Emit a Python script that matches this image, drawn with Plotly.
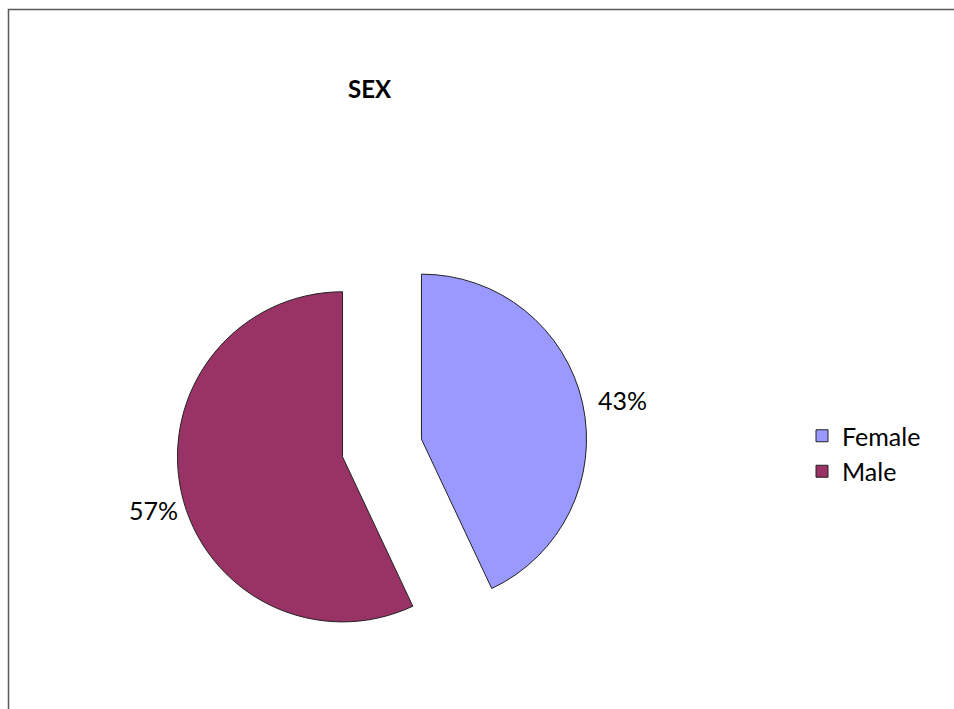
import plotly.graph_objects as go

# Sex distribution
categories = ["Female", "Male"]
shares = [43, 57]
colors = ["#9999FF", "#993366"]

W, H = 954, 709
font_family = "Lato, 'Open Sans', sans-serif"

fig = go.Figure(
    go.Pie(
        labels=categories,
        values=shares,
        sort=False,
        direction="clockwise",
        rotation=0,
        pull=[0.245, 0.245],
        marker=dict(colors=colors, line=dict(color="#222222", width=1)),
        textinfo="none",
        hoverinfo="label+percent",
        domain=dict(x=[176.5 / W, 587.5 / W], y=[55 / H, 467 / H]),
    )
)

# Percentage labels placed beside each slice
label_pos = [(622 / W, 1 - 400 / H), (153 / W, 1 - 510 / H)]
annotations = [
    dict(
        text=f"{v}%",
        x=px,
        y=py,
        xref="paper",
        yref="paper",
        xanchor="center",
        yanchor="middle",
        showarrow=False,
        font=dict(family=font_family, size=25, color="#000000"),
    )
    for v, (px, py) in zip(shares, label_pos)
]
annotations.append(
    dict(
        text="<b>SEX</b>",
        x=370 / W,
        y=1 - 88 / H,
        xref="paper",
        yref="paper",
        xanchor="center",
        yanchor="middle",
        showarrow=False,
        font=dict(family=font_family, size=24, color="#000000"),
    )
)

fig.update_layout(
    width=W,
    height=H,
    margin=dict(l=0, r=0, t=0, b=0),
    paper_bgcolor="white",
    plot_bgcolor="white",
    showlegend=True,
    legend=dict(
        x=802 / W,
        y=1 - 413 / H,
        xanchor="left",
        yanchor="top",
        font=dict(family=font_family, size=25, color="#000000"),
        tracegroupgap=0,
        itemwidth=30,
    ),
    annotations=annotations,
    shapes=[
        dict(
            type="rect",
            xref="paper",
            yref="paper",
            x0=8.5 / W,
            x1=1.05,
            y0=-0.05,
            y1=1 - 9.5 / H,
            line=dict(color="#5a5a5a", width=1.5),
        )
    ],
)

fig.write_html("out.html")
